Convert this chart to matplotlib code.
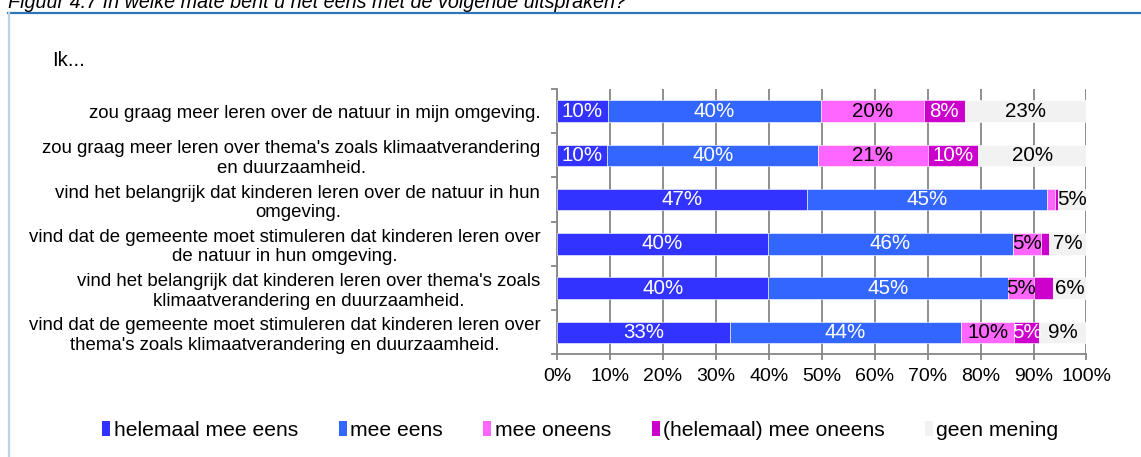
import numpy as np
import matplotlib
matplotlib.use("Agg")
import matplotlib.pyplot as plt
from matplotlib.patches import Patch
from matplotlib.lines import Line2D

plt.rcParams['font.family'] = ['Liberation Sans', 'DejaVu Sans']

# statements, top to bottom
categories = [
    "zou graag meer leren over de natuur in mijn omgeving.",
    "zou graag meer leren over thema's zoals klimaatverandering\nen duurzaamheid.",
    "vind het belangrijk dat kinderen leren over de natuur in hun\nomgeving.",
    "vind dat de gemeente moet stimuleren dat kinderen leren over\nde natuur in hun omgeving.",
    "vind het belangrijk dat kinderen leren over thema's zoals\nklimaatverandering en duurzaamheid.",
    "vind dat de gemeente moet stimuleren dat kinderen leren over\nthema's zoals klimaatverandering en duurzaamheid.",
]
series_names = ["helemaal mee eens", "mee eens", "mee oneens",
                "(helemaal) mee oneens", "geen mening"]
helemaal_eens = [9.6, 9.5, 47.3, 39.8, 39.9, 32.6]
mee_eens = [40.2, 39.8, 45.3, 46.3, 45.2, 43.7]
mee_oneens = [19.5, 20.7, 1.5, 5.3, 4.9, 10.1]
helemaal_oneens = [7.7, 9.6, 0.5, 1.5, 3.6, 4.6]
geen_mening = [23.0, 20.4, 5.4, 7.1, 6.4, 9.0]
xtick_labels = ["0%", "10%", "20%", "30%", "40%", "50%", "60%", "70%", "80%", "90%", "100%"]

colors = ["#3333FF", "#3366FF", "#FF66FF", "#CC00CC", "#F2F2F2"]
text_colors = ["white", "white", "black", "white", "black"]

fig = plt.figure(figsize=(11.41, 4.57), dpi=100)
ax = fig.add_axes([0.4882, 0.2243, 0.9522 - 0.4882, 0.8053 - 0.2243])

y = np.arange(len(categories))
left = np.zeros(len(categories))
for vals, col, tcol, name in zip(
        [helemaal_eens, mee_eens, mee_oneens, helemaal_oneens, geen_mening],
        colors, text_colors, series_names):
    vals = np.array(vals)
    bars = ax.barh(y, vals, left=left, height=0.49, color=col,
                   edgecolor="white", linewidth=0.4, label=name, zorder=3)
    for b, v in zip(bars, vals):
        if v >= 4.5:
            ax.text(b.get_x() + b.get_width() / 2, b.get_y() + b.get_height() / 2,
                    "%d%%" % round(v), ha="center", va="center",
                    color=tcol, fontsize=14.8, zorder=4)
    left += vals

ax.set_xlim(0, 100)
ax.set_ylim(len(categories) - 0.5, -0.5)
ax.set_xticks(np.arange(0, 101, 10))
ax.set_xticklabels(xtick_labels, fontsize=14)
ax.set_yticks(y)
ax.set_yticklabels(categories, fontsize=13.4, multialignment="center")
ax.set_yticks(np.arange(-0.5, len(categories), 1), minor=True)
ax.tick_params(axis="y", which="major", length=0, pad=12)
ax.tick_params(axis="y", which="minor", length=4, color="#868686", width=1.3)
ax.tick_params(axis="x", length=4, color="#868686", width=1.3, pad=6)

ax.grid(axis="x", color="#868686", linewidth=1.3, zorder=0)
ax.set_axisbelow(True)
for s in ["top", "right"]:
    ax.spines[s].set_visible(False)
for s in ["left", "bottom"]:
    ax.spines[s].set_color("#868686")
    ax.spines[s].set_linewidth(1.3)

# outer frame and caption
fig.add_artist(Line2D([8 / 1141, 1.0], [1 - 12.5 / 457] * 2, color="#2E75B6",
                      linewidth=1.6, transform=fig.transFigure))
fig.add_artist(Line2D([8.5 / 1141] * 2, [0, 1 - 12.5 / 457], color="#BDD2EA",
                      linewidth=1.6, transform=fig.transFigure))
fig.text(8 / 1141, 1 - 8 / 457, "Figuur 4.7 In welke mate bent u het eens met de volgende uitspraken?",
         fontsize=14.2, style="italic", va="baseline", ha="left")
fig.text(52 / 1141, 1 - 60 / 457, "Ik...", fontsize=14.8, va="center", ha="left")

handles = [Patch(facecolor=c, edgecolor="none") for c in colors]
fig.legend(handles, series_names, loc="center", ncol=5,
           bbox_to_anchor=(580.5 / 1141, 1 - 430 / 457), frameon=False,
           fontsize=15.2, handlelength=0.38, handleheight=0.7,
           handletextpad=0.15, columnspacing=1.93)

fig.savefig("out.png", dpi=100)
